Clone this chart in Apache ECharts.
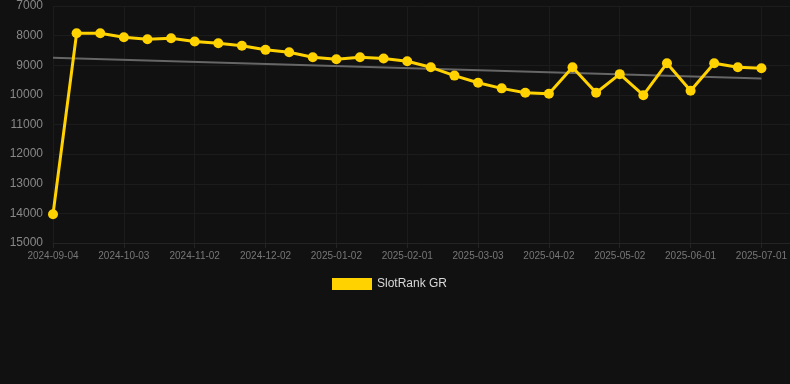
<!DOCTYPE html>
<html>
<head>
<meta charset="utf-8">
<script src="https://cdn.jsdelivr.net/npm/echarts@6/dist/echarts.min.js"></script>
<style>
  html, body { margin: 0; padding: 0; background: #111111; }
  #chart { width: 790px; height: 384px; }
</style>
</head>
<body>
<div id="chart"></div>
<script>
// dates of each point (only every third one is labelled)
const dates = [
  '2024-09-04', '2024-09-14', '2024-09-24', '2024-10-03', '2024-10-13',
  '2024-10-23', '2024-11-02', '2024-11-12', '2024-11-22', '2024-12-02',
  '2024-12-12', '2024-12-22', '2025-01-02', '2025-01-12', '2025-01-22',
  '2025-02-01', '2025-02-11', '2025-02-21', '2025-03-03', '2025-03-13',
  '2025-03-23', '2025-04-02', '2025-04-12', '2025-04-22', '2025-05-02',
  '2025-05-12', '2025-05-22', '2025-06-01', '2025-06-11', '2025-06-21',
  '2025-07-01',
];

const rankGR = [
  14030, 7920, 7920, 8055, 8120, 8090, 8200, 8260, 8340, 8480,
  8560, 8730, 8800, 8730, 8775, 8865, 9070, 9350, 9590, 9780,
  9930, 9960, 9070, 9930, 9300, 10010, 8930, 9860, 8930, 9070,
  9100,
];

// trend line: start and end values
const trendIdx = [0, 30];
const trendVal = [8745, 9450];

const yTicks = [7000, 15000, 1000]; // min, max, step

const chart = echarts.init(document.getElementById('chart'));

const gridColor = '#1c1c1c';
const font = "'Liberation Sans', Arial, sans-serif";

chart.setOption({
  backgroundColor: '#111111',
  animation: false,
  textStyle: { fontFamily: font },
  grid: { left: 53, right: 0, top: 6, bottom: 141 },
  legend: {
    top: 273,
    left: 327,
    itemWidth: 40,
    itemHeight: 12,
    itemGap: 6,
    data: [{ name: 'SlotRank GR', icon: 'rect' }],
    textStyle: { color: '#d8d8d8', fontSize: 12, fontFamily: font },
  },
  xAxis: {
    type: 'value',
    min: 0,
    max: 31.2,
    interval: 3,
    axisLine: { show: true, lineStyle: { color: '#242424' } },
    axisTick: { show: true, length: 5, lineStyle: { color: '#242424' } },
    splitLine: { show: true, lineStyle: { color: gridColor } },
    axisLabel: {
      color: '#777',
      fontSize: 10,
      margin: 8,
      showMaxLabel: false,
      formatter: v => dates[v] || '',
    },
  },
  yAxis: {
    type: 'value',
    inverse: true,
    min: yTicks[0],
    max: yTicks[1],
    interval: yTicks[2],
    axisLine: { show: false },
    axisTick: { show: false },
    splitLine: { show: true, lineStyle: { color: gridColor } },
    axisLabel: { color: '#888', fontSize: 12, margin: 10, formatter: v => String(v) },
  },
  series: [
    {
      name: 'trend',
      type: 'line',
      data: trendIdx.map((x, i) => [x, trendVal[i]]),
      symbol: 'none',
      lineStyle: { color: '#666', width: 2 },
      z: 1,
    },
    {
      name: 'SlotRank GR',
      type: 'line',
      data: rankGR.map((v, i) => [i, v]),
      symbol: 'circle',
      symbolSize: 10,
      itemStyle: { color: '#ffd200' },
      lineStyle: { color: '#ffd200', width: 3 },
      z: 3,
    },
  ],
});
</script>
</body>
</html>
